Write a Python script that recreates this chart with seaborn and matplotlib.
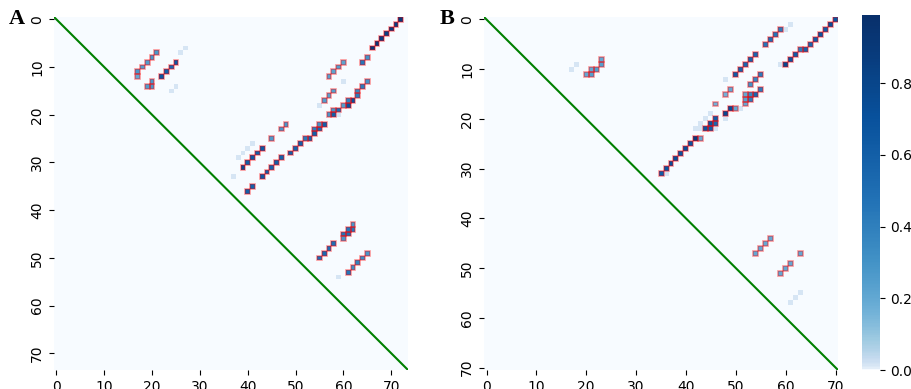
import numpy as np
import matplotlib
matplotlib.use("Agg")
import matplotlib.pyplot as plt
import seaborn as sns
from matplotlib.patches import Rectangle
from matplotlib.colors import ListedColormap

# ---------------- Panel A (74 x 74) ----------------
N_A = 74
# predicted probabilities (row, col, value) for ground-truth pairs
a_rows = [0, 1, 2, 3, 4, 5, 6,
          8, 9,
          9, 10, 11, 12,
          13, 14, 15, 16, 17, 17, 18, 18,
          15, 16, 17,
          19, 19, 20, 20,
          22, 22, 23, 23, 24, 25, 25, 26, 27, 28,
          22, 23, 25,
          29, 30, 31, 32, 33,
          27, 28, 29, 30, 31,
          35, 36,
          7, 8, 9, 10, 11, 12,
          13, 14, 14,
          9, 10, 11, 12,
          43, 44, 44, 45, 45, 46,
          47, 48, 49, 50,
          49, 50, 51, 52, 53]
a_cols = [72, 71, 70, 69, 68, 67, 66,
          65, 64,
          60, 59, 58, 57,
          65, 64, 63, 63, 62, 61, 61, 60,
          58, 57, 56,
          59, 58, 58, 57,
          56, 55, 55, 54, 54, 53, 52, 51, 50, 49,
          48, 47, 45,
          47, 46, 45, 44, 43,
          43, 42, 41, 40, 39,
          41, 40,
          21, 20, 19, 18, 17, 17,
          20, 20, 19,
          25, 24, 23, 22,
          62, 62, 61, 61, 60, 60,
          58, 57, 56, 55,
          65, 64, 63, 62, 61]
a_vals = [0.9, 0.85, 0.88, 0.83, 0.86, 0.9, 0.92,
          0.3, 0.45,
          0.22, 0.24, 0.22, 0.23,
          0.3, 0.42, 0.35, 0.42, 0.7, 0.38, 0.7, 0.25,
          0.24, 0.23, 0.25,
          0.5, 0.28, 0.6, 0.28,
          0.6, 0.3, 0.55, 0.42, 0.6, 0.57, 0.44, 0.6, 0.57, 0.6,
          0.28, 0.28, 0.26,
          0.57, 0.6, 0.57, 0.6, 0.66,
          0.66, 0.6, 0.66, 0.6, 0.75,
          0.57, 0.6,
          0.28, 0.28, 0.25, 0.25, 0.28, 0.2,
          0.28, 0.28, 0.25,
          0.66, 0.55, 0.6, 0.66,
          0.28, 0.45, 0.45, 0.5, 0.47, 0.28,
          0.5, 0.5, 0.54, 0.5,
          0.28, 0.33, 0.38, 0.33, 0.45]
# weak predictions (not in ground truth)
a_weak_rows = [6, 7, 14, 15, 26, 27, 28, 29, 33, 13, 18, 20, 54]
a_weak_cols = [27, 26, 25, 24, 41, 40, 39, 38, 37, 60, 55, 59, 59]
a_weak_vals = [0.012, 0.012, 0.012, 0.012, 0.012, 0.012, 0.012,
               0.012, 0.012, 0.012, 0.012, 0.012, 0.012]

# ---------------- Panel B (71 x 71) ----------------
N_B = 71
b_rows = [0, 1, 2, 3, 4, 5, 6, 6, 7, 8, 9,
          2, 3, 4, 5,
          7, 8, 9, 10, 11,
          11, 12, 13, 14, 15, 15, 16,
          15, 16, 17,
          14, 15, 17,
          18, 18, 19,
          20, 21, 21, 22, 22,
          24, 24, 25, 26, 27, 28, 29, 30, 31,
          8, 9, 10, 10, 11, 11,
          44, 45, 46, 47,
          47, 49, 50, 51]
b_cols = [70, 69, 68, 67, 66, 65, 64, 63, 62, 61, 60,
          59, 58, 57, 56,
          54, 53, 52, 51, 50,
          55, 54, 53, 55, 54, 53, 53,
          52, 52, 52,
          49, 48, 46,
          50, 49, 48,
          46, 46, 45, 45, 44,
          43, 42, 41, 40, 39, 38, 37, 36, 35,
          23, 23, 22, 21, 21, 20,
          57, 56, 55, 54,
          63, 61, 60, 59]
b_vals = [0.68, 0.73, 0.62, 0.68, 0.62, 0.55, 0.58, 0.42, 0.62, 0.68, 0.78,
          0.42, 0.45, 0.5, 0.45,
          0.55, 0.58, 0.55, 0.58, 0.62,
          0.42, 0.36, 0.3, 0.42, 0.55, 0.36, 0.42,
          0.2, 0.23, 0.2,
          0.2, 0.16, 0.16,
          0.2, 0.73, 0.77,
          0.62, 0.55, 0.68, 0.62, 0.68,
          0.2, 0.88, 0.68, 0.73, 0.68, 0.73, 0.73, 0.68, 0.62,
          0.2, 0.24, 0.24, 0.2, 0.24, 0.2,
          0.2, 0.2, 0.2, 0.2,
          0.2, 0.2, 0.2, 0.2]
b_weak_rows = [1, 2, 9, 12, 18, 20, 19, 20, 21, 22, 22, 22, 31, 9, 10, 55, 56, 57]
b_weak_cols = [61, 60, 59, 48, 51, 48, 45, 44, 43, 42, 43, 46, 36, 18, 17, 63, 62, 61]
b_weak_vals = [0.012] * 18

tick_step = 10
vmax = 0.99

# Blues colour ramp, brightened towards the low end
base = plt.get_cmap("Blues")
cmap = ListedColormap(base(np.linspace(0, 1, 256) ** 0.4))


def build(n, rows, cols, vals, wrows, wcols, wvals):
    m = np.zeros((n, n))
    for r, c, v in zip(rows, cols, vals):
        m[r, c] = v
    for r, c, v in zip(wrows, wcols, wvals):
        m[r, c] = v
    return m


mat_a = build(N_A, a_rows, a_cols, a_vals, a_weak_rows, a_weak_cols, a_weak_vals)
mat_b = build(N_B, b_rows, b_cols, b_vals, b_weak_rows, b_weak_cols, b_weak_vals)

fig = plt.figure(figsize=(9.11, 3.89), dpi=100)
ax_a = fig.add_axes([0.0593, 0.0488, 0.3886, 0.9075])
ax_b = fig.add_axes([0.5313, 0.0488, 0.3886, 0.9075])
cax = fig.add_axes([0.9462, 0.0488, 0.0198, 0.9126])

sns.heatmap(mat_a, cmap=cmap, vmin=0, vmax=vmax, cbar=False,
            xticklabels=tick_step, yticklabels=tick_step, ax=ax_a)
sns.heatmap(mat_b, cmap=cmap, vmin=0, vmax=vmax, cbar=True, cbar_ax=cax,
            xticklabels=tick_step, yticklabels=tick_step, ax=ax_b)

for ax, n, rows, cols, label in [(ax_a, N_A, a_rows, a_cols, "A"),
                                 (ax_b, N_B, b_rows, b_cols, "B")]:
    for r, c in zip(rows, cols):
        ax.add_patch(Rectangle((c, r), 1, 1, fill=False, edgecolor="red",
                               lw=1.2, alpha=0.4))
    ax.plot([0, n], [0, n], color="green", lw=1.5)
    ax.tick_params(axis="x", labelrotation=0, labelsize=10)
    ax.tick_params(axis="y", labelrotation=90, labelsize=10)
    for t in ax.get_yticklabels():
        t.set_va("center")
    ax.text(-0.105, 0.995, label, transform=ax.transAxes, fontsize=16,
            fontweight="bold", family="Liberation Serif", ha="center", va="center")

cax.tick_params(labelsize=10)

fig.savefig("out.png", dpi=100)
